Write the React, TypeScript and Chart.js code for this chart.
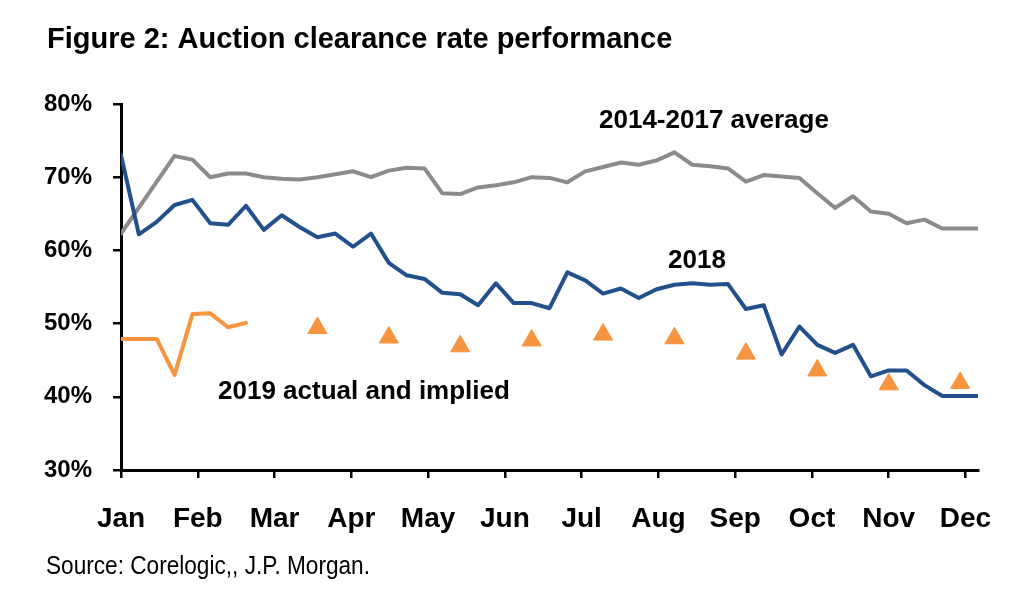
import React, { useEffect, useRef } from "react";
import { Chart, registerables } from "chart.js";

Chart.register(...registerables);

const months = ["Jan", "Feb", "Mar", "Apr", "May", "Jun", "Jul", "Aug", "Sep", "Oct", "Nov", "Dec"];
const yTicks = [30, 40, 50, 60, 70, 80];

// weekly values, week 0 = start of Jan
const avg2014to2017 = [
  62.3, null, null, 72.9, 72.4, 70.0, 70.5, 70.5, 70.0, 69.8,
  69.7, 70.0, 70.4, 70.8, 70.0, 70.9, 71.3, 71.2, 67.8, 67.7,
  68.6, 68.9, 69.3, 70.0, 69.9, 69.3, 70.8, 71.4, 72.0, 71.7,
  72.3, 73.4, 71.7, 71.5, 71.2, 69.4, 70.3, 70.1, 69.9, 67.8,
  65.8, 67.4, 65.3, 65.0, 63.7, 64.2, 63.0, 63.0, 63.0,
];
const rate2018 = [
  73.0, 62.2, 63.9, 66.2, 66.9, 63.7, 63.5, 66.1, 62.8, 64.8,
  63.2, 61.8, 62.3, 60.5, 62.3, 58.3, 56.6, 56.1, 54.2, 54.0,
  52.5, 55.5, 52.8, 52.8, 52.1, 57.0, 55.9, 54.1, 54.8, 53.5,
  54.7, 55.3, 55.5, 55.3, 55.4, 52.0, 52.5, 45.8, 49.6, 47.1,
  46.0, 47.1, 42.8, 43.6, 43.6, 41.6, 40.1, 40.1, 40.1,
];
const actual2019 = [47.9, 47.9, 47.9, 43.0, 51.3, 51.4, 49.5, 50.1];
const impliedWeeks = [11, 15, 19, 23, 27, 31, 35, 39, 43, 47];
const implied2019 = [49.4, 48.1, 46.9, 47.7, 48.5, 48.0, 45.9, 43.6, 41.7, 41.9];

const WEEKS_PER_MONTH = 4.3;
const LAST_WEEK = 48;

const GRAY = "#8b8b8b";
const BLUE = "#22508c";
const ORANGE = "#f7943f";

const textPlugin = {
  id: "texts",
  afterDraw(chart: any) {
    const ctx = chart.ctx;
    ctx.save();
    ctx.fillStyle = "#000";
    ctx.textBaseline = "alphabetic";
    ctx.textAlign = "left";
    ctx.font = 'bold 29px "Liberation Sans", Arial, sans-serif';
    ctx.fillText("Figure 2: Auction clearance rate performance", 47, 48);
    ctx.font = 'bold 26px "Liberation Sans", Arial, sans-serif';
    ctx.fillText("2014-2017 average", 599, 128);
    ctx.fillText("2018", 668, 268);
    ctx.fillText("2019 actual and implied", 218, 399);
    ctx.save();
    ctx.translate(46, 574);
    ctx.scale(0.87, 1);
    ctx.font = '26px "Liberation Sans", Arial, sans-serif';
    ctx.fillText("Source: Corelogic,, J.P. Morgan.", 0, 0);
    ctx.restore();
    ctx.restore();
  },
};

export default function App() {
  const ref = useRef<HTMLCanvasElement | null>(null);

  useEffect(() => {
    document.body.style.margin = "0";
    const canvas = ref.current!;
    const chart = new Chart(canvas, {
      type: "line",
      data: {
        datasets: [
          {
            label: "2019 implied",
            data: impliedWeeks.map((w, i) => ({ x: w, y: implied2019[i] })),
            showLine: false,
            pointStyle: "triangle",
            pointRadius: 11,
            pointBackgroundColor: ORANGE,
            pointBorderColor: ORANGE,
            pointBorderWidth: 1,
            borderColor: ORANGE,
            backgroundColor: ORANGE,
          },
          {
            label: "2019 actual",
            data: actual2019.map((v, i) => ({ x: i, y: v })),
            borderColor: ORANGE,
            borderWidth: 4,
            pointRadius: 0,
          },
          {
            label: "2018",
            data: rate2018.map((v, i) => ({ x: i, y: v })),
            borderColor: BLUE,
            borderWidth: 4,
            pointRadius: 0,
          },
          {
            label: "2014-2017 average",
            data: avg2014to2017.map((v, i) => ({ x: i, y: v })),
            borderColor: GRAY,
            borderWidth: 4,
            pointRadius: 0,
            spanGaps: true,
          },
        ],
      },
      options: {
        responsive: false,
        animation: false,
        devicePixelRatio: 1,
        layout: { padding: { left: 0, top: 104, right: 32, bottom: 0 } },
        plugins: { legend: { display: false }, tooltip: { enabled: false } },
        elements: { line: { tension: 0, borderJoinStyle: "round", borderCapStyle: "round" } },
        scales: {
          x: {
            type: "linear",
            min: 0,
            max: LAST_WEEK,
            afterFit: (s: any) => {
              s.height = 127;
              s.paddingLeft = 0;
              s.paddingRight = 0;
            },
            afterBuildTicks: (s: any) => {
              s.ticks = months.map((_, i) => ({ value: i * WEEKS_PER_MONTH }));
            },
            ticks: {
              autoSkip: false,
              maxRotation: 0,
              padding: 24,
              color: "#000",
              font: { family: '"Liberation Sans", Arial, sans-serif', size: 28, weight: "bold" },
              callback: (_v: any, i: number) => months[i],
            },
            grid: {
              drawOnChartArea: false,
              drawTicks: true,
              tickLength: 8,
              color: "#000",
              lineWidth: 2.5,
            },
            border: { display: true, color: "#000", width: 3 },
          },
          y: {
            min: 30,
            max: 80,
            afterFit: (s: any) => {
              s.width = 121;
              s.paddingTop = 0;
              s.paddingBottom = 0;
            },
            afterBuildTicks: (s: any) => {
              s.ticks = yTicks.map((v) => ({ value: v }));
            },
            ticks: {
              padding: 21,
              color: "#000",
              font: { family: '"Liberation Sans", Arial, sans-serif', size: 24, weight: "bold" },
              callback: (v: any) => v + "%",
            },
            grid: {
              drawOnChartArea: false,
              drawTicks: true,
              tickLength: 8,
              color: "#000",
              lineWidth: 2.5,
            },
            border: { display: true, color: "#000", width: 3 },
          },
        },
      },
      plugins: [textPlugin],
    } as any);
    return () => chart.destroy();
  }, []);

  return (
    <div style={{ position: "absolute", left: 0, top: 0, width: 1010, height: 597, background: "#fff" }}>
      <canvas ref={ref} width={1010} height={597} style={{ display: "block" }} />
    </div>
  );
}
